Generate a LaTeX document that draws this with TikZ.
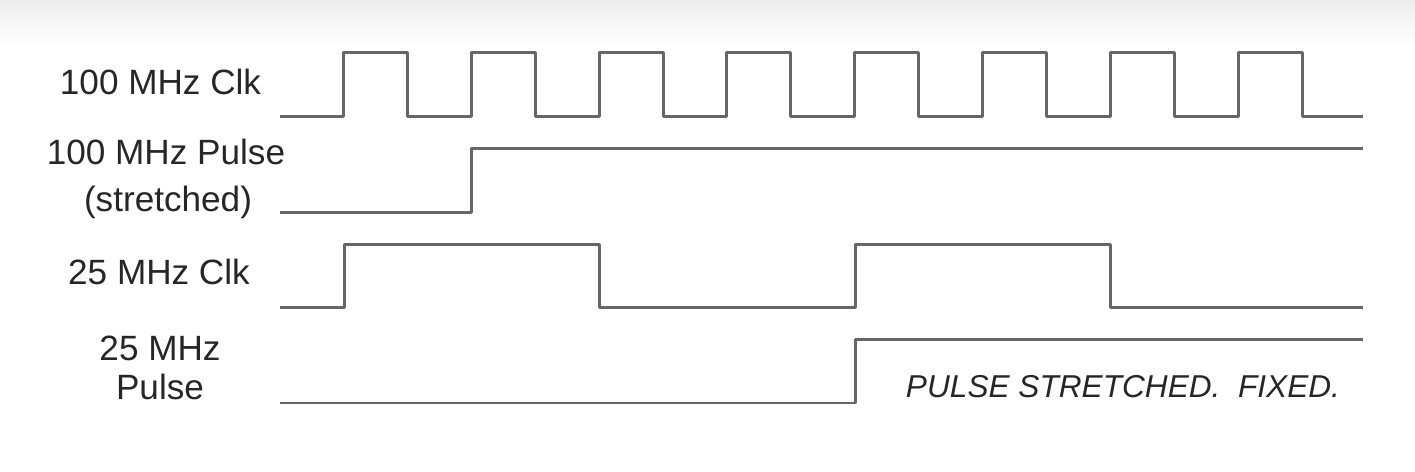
\documentclass[tikz,border=0pt]{standalone}
\usepackage{fontspec}
\setmainfont{Liberation Sans}
\usepackage{tikz}
\usetikzlibrary{positioning}

\begin{document}
\begin{tikzpicture}[x=0.02cm,y=-0.02cm,
    wave/.style={draw=black!60, line width=0.06cm, line join=round},
    lbl/.style={anchor=base, inner sep=0pt, font=\fontsize{20}{22}\selectfont, text=black!85}]
        \useasboundingbox (0,0) rectangle (1415,472);
        \shade[top color=black!7, bottom color=white] (0,0) rectangle (1415,45);
        % signal names
        \node[lbl] (clkF) at (160.5,95) {100 MHz Clk};
        \node[lbl] (plsF) at (166,165) {100 MHz Pulse};
        \node[lbl] (plsFb) at (168,212) {(stretched)};
        \node[lbl] (clkS) at (159,285) {25 MHz Clk};
        \node[lbl] (plsS) at (160,360) {25 MHz};
        \node[lbl] (plsSb) at (160,399) {Pulse};
        % waveforms
        \draw[wave] (280,117) foreach \k in {0,...,7} { -- ({343.5+127.8*\k},117) -- ++(0,-64) -- ++(64,0) -- ++(0,64)} -- (1363,117);
        \draw[wave] (280,213) -- (471,213) -- (471,149) -- (1363,149);
        \draw[wave] (280,308) -- (344,308) -- (344,245) -- (599,245) -- (599,308) -- (855,308) -- (855,245) -- (1110,245) -- (1110,308) -- (1363,308);
        \draw[wave] (280,403) -- (855,403) -- (855,340) -- (1363,340);
        \node[anchor=base, inner sep=0pt, font=\fontsize{18}{20}\selectfont\itshape, text=black!85] (note) at (1123,398) {PULSE STRETCHED.\ \ FIXED.};
    \end{tikzpicture}
\end{document}
